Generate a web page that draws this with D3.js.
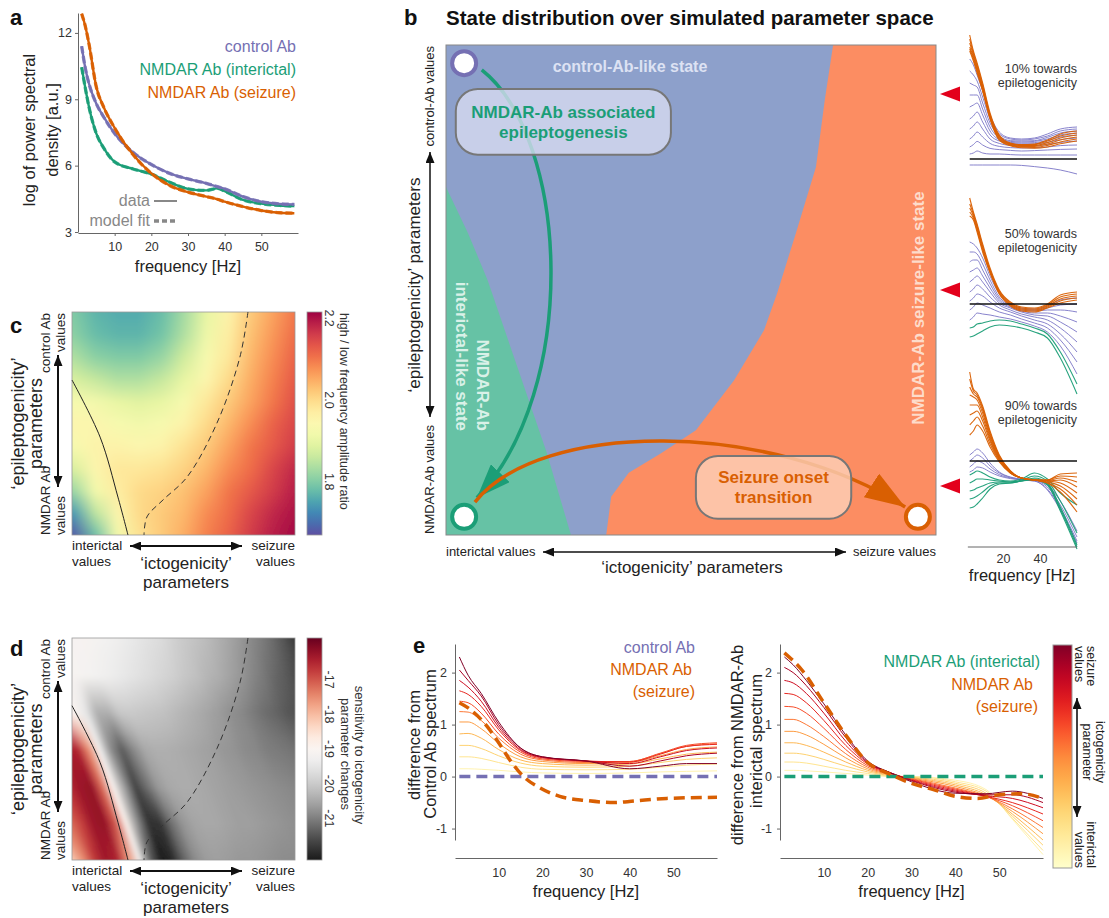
<!DOCTYPE html>
<html>
<head>
<meta charset="utf-8">
<script src="https://cdn.jsdelivr.net/npm/d3@7"></script>
<style>
  body { margin: 0; background: #fff; }
  svg { font-family: "Liberation Sans", Arial, Helvetica, sans-serif; }
  .ax path, .ax line { stroke: #666; }
  .ax text { font-size: 12.5px; fill: #333; font-family: "Liberation Sans", Arial, sans-serif; }
</style>
</head>
<body>
<svg width="1109" height="918"></svg>
<script>
// ---------- panel a: fitted spectra ----------
const freqA = [1, 2, 3, 5, 7, 10, 15, 20, 25, 30, 35, 38, 40, 45, 50, 55, 59];
const psdControl = [11.4, 10.4, 9.7, 8.8, 8.2, 7.45, 6.6, 6.05, 5.65, 5.4, 5.2, 5.05, 4.95, 4.6, 4.37, 4.27, 4.25];
const psdInterictal = [10.45, 9.5, 8.65, 7.45, 6.8, 6.17, 5.85, 5.62, 5.25, 4.95, 4.88, 4.97, 4.85, 4.45, 4.28, 4.2, 4.17];
const psdSeizure = [12.87, 12.3, 11.5, 9.55, 8.65, 7.7, 6.5, 5.65, 5.1, 4.8, 4.6, 4.48, 4.37, 4.15, 3.97, 3.87, 3.85];
const psdTicks = [3, 6, 9, 12];
const freqTicks = [10, 20, 30, 40, 50];

// ---------- panel b: state map, [ictogenicity, epileptogenicity] in 0..1 ----------
const interictalEdge = [[0, 0.71], [0.045, 0.616], [0.085, 0.52], [0.15, 0.33], [0.205, 0.17], [0.255, 0]];
const seizureEdge = [[0.79, 1], [0.773, 0.888], [0.755, 0.751], [0.714, 0.616], [0.676, 0.494], [0.649, 0.418],
  [0.588, 0.316], [0.51, 0.214], [0.439, 0.167], [0.373, 0.127], [0.337, 0.078], [0.327, 0]];
const sampledEpi = [0.9, 0.5, 0.1];
const sampledLabels = ["10%", "50%", "90%"];

// spectra relative to control (right column of b)
const freqB = [2, 4, 6, 9, 13, 18, 24, 30, 37, 44, 51, 60];
const spec10Control = [
  [5.0, 4.7, 4.2, 3.4, 2.2, 1.35, 1.05, 1.0, 1.05, 1.25, 1.5, 1.6],
  [4.4, 4.2, 3.9, 3.1, 2.0, 1.25, 1.0, 0.95, 1.0, 1.15, 1.4, 1.5],
  [3.8, 3.7, 3.6, 2.8, 1.8, 1.15, 0.92, 0.9, 0.92, 1.08, 1.3, 1.4],
  [3.2, 3.2, 3.2, 2.5, 1.6, 1.05, 0.88, 0.85, 0.88, 1.0, 1.2, 1.3],
  [2.6, 2.7, 2.8, 2.2, 1.4, 0.97, 0.83, 0.8, 0.82, 0.92, 1.1, 1.2],
  [2.0, 2.15, 2.35, 1.85, 1.2, 0.9, 0.78, 0.75, 0.76, 0.83, 0.97, 1.05],
  [1.5, 1.65, 1.85, 1.5, 1.0, 0.78, 0.68, 0.65, 0.66, 0.73, 0.83, 0.9],
  [1.0, 1.15, 1.35, 1.1, 0.78, 0.63, 0.57, 0.55, 0.56, 0.6, 0.67, 0.7],
  [0.6, 0.72, 0.88, 0.7, 0.53, 0.47, 0.43, 0.4, 0.42, 0.45, 0.48, 0.5],
  [0.25, 0.3, 0.4, 0.3, 0.25, 0.25, 0.22, 0.2, 0.2, 0.2, 0.2, 0.2],
  [-0.3, -0.3, -0.3, -0.3, -0.3, -0.3, -0.3, -0.32, -0.38, -0.45, -0.55, -0.75]
];
const spec10Seizure = [
  [6.2, 5.4, 4.8, 3.8, 2.3, 1.2, 0.8, 0.72, 0.75, 0.95, 1.25, 1.4],
  [6.0, 5.3, 4.7, 3.7, 2.2, 1.15, 0.77, 0.7, 0.72, 0.9, 1.15, 1.3],
  [5.8, 5.2, 4.6, 3.6, 2.15, 1.1, 0.75, 0.67, 0.68, 0.82, 1.05, 1.2],
  [5.6, 5.1, 4.5, 3.5, 2.1, 1.05, 0.72, 0.63, 0.63, 0.75, 0.95, 1.1],
  [5.5, 5.0, 4.4, 3.45, 2.05, 1.0, 0.69, 0.6, 0.58, 0.68, 0.85, 1.0],
  [5.4, 4.9, 4.3, 3.4, 2.0, 0.95, 0.66, 0.56, 0.54, 0.6, 0.76, 0.9]
];
const spec10Interictal = [];
const spec50Control = [
  [3.1, 3.0, 2.8, 2.3, 1.4, 0.5, 0.0, -0.2, -0.25, -0.1, 0.2, 0.3],
  [2.6, 2.6, 2.5, 2.0, 1.2, 0.35, -0.05, -0.25, -0.3, -0.2, -0.05, 0.0],
  [2.1, 2.2, 2.2, 1.7, 1.0, 0.25, -0.1, -0.3, -0.35, -0.3, -0.3, -0.4],
  [1.6, 1.7, 1.8, 1.4, 0.8, 0.15, -0.15, -0.35, -0.45, -0.45, -0.6, -0.9],
  [1.1, 1.25, 1.4, 1.1, 0.6, 0.05, -0.2, -0.4, -0.55, -0.6, -0.9, -1.4],
  [0.6, 0.75, 0.95, 0.75, 0.35, -0.05, -0.3, -0.5, -0.65, -0.8, -1.2, -1.9],
  [0.15, 0.3, 0.5, 0.4, 0.1, -0.2, -0.4, -0.6, -0.8, -1.0, -1.5, -2.4],
  [-0.3, -0.15, 0.05, -0.05, -0.2, -0.4, -0.55, -0.75, -0.95, -1.2, -1.8, -2.9],
  [-0.8, -0.65, -0.45, -0.5, -0.55, -0.65, -0.75, -0.9, -1.1, -1.4, -2.1, -3.5]
];
const spec50Seizure = [
  [5.3, 4.6, 4.0, 3.0, 1.8, 0.7, 0.1, -0.15, -0.2, 0.0, 0.45, 0.6],
  [5.0, 4.5, 3.9, 2.9, 1.7, 0.65, 0.05, -0.2, -0.25, -0.05, 0.35, 0.5],
  [4.8, 4.4, 3.8, 2.8, 1.65, 0.6, 0.0, -0.25, -0.3, -0.1, 0.25, 0.4],
  [4.6, 4.3, 3.7, 2.7, 1.6, 0.55, -0.05, -0.3, -0.35, -0.15, 0.15, 0.3],
  [4.4, 4.2, 3.6, 2.6, 1.55, 0.5, -0.1, -0.35, -0.4, -0.2, 0.05, 0.2]
];
const spec50Interictal = [
  [-1.2, -1.15, -1.0, -0.95, -0.85, -0.8, -0.85, -1.0, -1.2, -1.5, -2.4, -4.0],
  [-1.65, -1.6, -1.5, -1.35, -1.15, -1.05, -1.1, -1.2, -1.4, -1.7, -2.7, -4.5]
];
const spec90Control = [
  [0.3, 0.45, 0.6, 0.4, -0.1, -0.55, -0.8, -0.9, -0.95, -1.2, -2.0, -3.5],
  [0.0, 0.15, 0.3, 0.15, -0.25, -0.6, -0.82, -0.92, -0.97, -1.3, -2.2, -3.8],
  [-0.3, -0.15, 0.0, -0.1, -0.4, -0.68, -0.85, -0.93, -1.0, -1.4, -2.35, -4.0],
  [-0.55, -0.45, -0.3, -0.35, -0.55, -0.75, -0.88, -0.95, -1.0, -1.45, -2.45, -4.1]
];
const spec90Seizure = [
  [4.45, 3.6, 3.4, 2.75, 1.5, 0.3, -0.5, -0.85, -0.95, -0.95, -0.65, -0.6],
  [4.1, 3.5, 3.3, 2.65, 1.4, 0.25, -0.5, -0.85, -0.95, -0.95, -0.75, -0.8],
  [3.7, 3.35, 3.2, 2.55, 1.3, 0.2, -0.55, -0.85, -0.95, -0.97, -0.85, -1.05],
  [3.3, 3.2, 3.05, 2.4, 1.2, 0.15, -0.55, -0.85, -0.95, -1.0, -0.95, -1.3],
  [2.8, 2.8, 2.8, 2.2, 1.1, 0.1, -0.55, -0.85, -0.95, -1.0, -1.1, -1.6],
  [2.3, 2.4, 2.5, 2.0, 1.0, 0.05, -0.6, -0.85, -0.95, -1.05, -1.25, -1.9],
  [1.8, 2.0, 2.2, 1.75, 0.85, 0.0, -0.6, -0.85, -0.95, -1.1, -1.4, -2.2],
  [1.3, 1.5, 1.8, 1.5, 0.7, -0.05, -0.6, -0.85, -0.95, -1.1, -1.55, -2.55]
];
const spec90Interictal = [
  [-0.7, -0.6, -0.5, -0.6, -0.8, -0.95, -1.0, -0.9, -0.6, -0.9, -1.6, -2.2],
  [-1.1, -1.0, -0.9, -0.9, -0.95, -1.0, -1.05, -0.95, -0.75, -1.0, -2.0, -3.6],
  [-1.5, -1.45, -1.35, -1.25, -1.1, -1.05, -1.05, -1.0, -0.85, -1.1, -2.3, -4.2],
  [-1.9, -1.85, -1.75, -1.55, -1.25, -1.1, -1.1, -1.0, -0.9, -1.15, -2.4, -4.3],
  [-2.35, -2.3, -2.15, -1.85, -1.4, -1.15, -1.1, -1.0, -0.95, -1.2, -2.5, -4.4]
];
const specTicks = [20, 40];

// ---------- panel c: high/low frequency amplitude ratio (rows: epi 1 -> 0, cols: icto 0 -> 1) ----------
const ratioGrid = [
  [1.80, 1.77, 1.76, 1.76, 1.78, 1.83, 1.90, 1.96, 2.02, 2.06, 2.10],
  [1.81, 1.78, 1.77, 1.77, 1.79, 1.84, 1.91, 1.97, 2.03, 2.07, 2.11],
  [1.84, 1.81, 1.80, 1.80, 1.82, 1.87, 1.93, 1.98, 2.04, 2.08, 2.12],
  [1.88, 1.86, 1.84, 1.84, 1.86, 1.90, 1.95, 2.00, 2.05, 2.09, 2.13],
  [1.93, 1.92, 1.90, 1.89, 1.90, 1.93, 1.98, 2.02, 2.06, 2.10, 2.14],
  [1.95, 1.95, 1.93, 1.92, 1.93, 1.96, 2.00, 2.04, 2.08, 2.12, 2.15],
  [1.93, 1.96, 1.96, 1.95, 1.96, 1.99, 2.02, 2.06, 2.10, 2.13, 2.16],
  [1.88, 1.95, 1.98, 1.98, 1.99, 2.01, 2.04, 2.08, 2.11, 2.15, 2.18],
  [1.82, 1.92, 1.97, 2.00, 2.01, 2.03, 2.06, 2.10, 2.13, 2.16, 2.19],
  [1.74, 1.85, 1.95, 2.00, 2.02, 2.04, 2.08, 2.11, 2.15, 2.18, 2.20],
  [1.68, 1.78, 1.92, 1.99, 2.02, 2.05, 2.09, 2.12, 2.16, 2.19, 2.21]
];
const ratioRange = [1.67, 2.215];
const ratioTicks = [1.8, 2.0, 2.2];

// ---------- panel d: sensitivity to ictogenicity changes ----------
// sampled on a grid sheared along the interictal border:
// rows epi = 1 -> 0 (step 1/6); columns s = -0.3 -> 1.2 (step 0.05), icto = s + 0.251 - 0.361 * epi
const sensGrid = [
  [-19.1, -19.1, -19.1, -19.1, -19.1, -19.1, -19.1, -19.1, -19.1, -19.1, -19.15, -19.2, -19.3, -19.4, -19.5, -19.6, -19.7, -19.85, -20.0, -20.1, -20.2, -20.35, -20.5, -20.65, -20.85, -21.0, -21.2, -21.45, -21.75, -21.85, -21.9],
  [-19.1, -19.1, -19.1, -19.1, -19.1, -19.1, -19.1, -19.1, -19.15, -19.2, -19.3, -19.4, -19.5, -19.6, -19.7, -19.8, -19.9, -20.05, -20.15, -20.3, -20.4, -20.55, -20.7, -20.9, -21.05, -21.25, -21.4, -21.6, -21.7, -21.8, -21.85],
  [-17.5, -17.5, -17.5, -17.8, -18.2, -18.7, -19.0, -19.5, -20.4, -20.4, -20.05, -20.0, -20.05, -20.1, -20.15, -20.25, -20.35, -20.45, -20.55, -20.65, -20.8, -20.9, -21.05, -21.2, -21.3, -21.45, -21.55, -21.6, -21.65, -21.7, -21.7],
  [-16.5, -16.5, -16.5, -16.5, -16.4, -16.5, -17.5, -19.2, -20.8, -21.4, -20.9, -20.5, -20.4, -20.4, -20.45, -20.5, -20.55, -20.6, -20.7, -20.75, -20.85, -20.9, -21.0, -21.05, -21.1, -21.2, -21.25, -21.3, -21.35, -21.4, -21.4],
  [-16.8, -16.8, -16.8, -16.6, -16.3, -16.2, -17.2, -19.0, -20.6, -21.7, -21.2, -20.7, -20.5, -20.45, -20.45, -20.5, -20.55, -20.6, -20.65, -20.7, -20.75, -20.8, -20.85, -20.9, -20.95, -21.0, -21.05, -21.1, -21.15, -21.2, -21.2],
  [-17.3, -17.3, -17.2, -16.8, -16.3, -16.2, -17.0, -18.9, -20.8, -21.9, -21.9, -21.2, -20.75, -20.55, -20.5, -20.5, -20.55, -20.6, -20.6, -20.65, -20.7, -20.75, -20.8, -20.85, -20.9, -20.95, -21.0, -21.0, -21.05, -21.05, -21.05],
  [-18.4, -18.2, -17.5, -16.7, -16.3, -16.5, -17.6, -19.3, -21.4, -22.2, -22.0, -21.3, -20.85, -20.65, -20.6, -20.65, -20.7, -20.7, -20.75, -20.8, -20.85, -20.85, -20.9, -20.9, -20.9, -20.9, -20.9, -20.9, -20.9, -20.9, -20.9]
];
const sensShear = { s0: -0.3, s1: 1.2, shift: 0.251, slope: 0.361 };
const sensRange = [-22.2, -15.8];
const sensTicks = [-21, -20, -19, -18, -17];

// state borders drawn over c and d
const interictalBorder = [[0, 0.695], [0.126, 0.439], [0.206, 0.17], [0.251, 0]];
const seizureBorder = [[0.789, 1], [0.753, 0.798], [0.65, 0.502], [0.516, 0.26], [0.408, 0.157], [0.336, 0.081], [0.323, 0]];

// ---------- panel e ----------
const freqE = [1, 3, 6, 10, 15, 20, 30, 40, 47, 53, 60];
const diffFromControl = [
  [0.15, 0.15, 0.14, 0.12, 0.09, 0.07, 0.06, 0.07, 0.09, 0.10, 0.11],
  [0.38, 0.38, 0.35, 0.27, 0.18, 0.14, 0.13, 0.14, 0.18, 0.22, 0.24],
  [0.60, 0.60, 0.54, 0.40, 0.26, 0.20, 0.18, 0.20, 0.27, 0.33, 0.36],
  [0.82, 0.83, 0.74, 0.52, 0.32, 0.25, 0.22, 0.24, 0.34, 0.43, 0.47],
  [1.05, 1.05, 0.92, 0.64, 0.38, 0.29, 0.25, 0.27, 0.40, 0.52, 0.57],
  [1.25, 1.24, 1.08, 0.74, 0.43, 0.32, 0.27, 0.29, 0.44, 0.58, 0.63],
  [1.45, 1.42, 1.22, 0.82, 0.47, 0.34, 0.29, 0.29, 0.45, 0.60, 0.65],
  [1.65, 1.58, 1.35, 0.90, 0.50, 0.36, 0.30, 0.28, 0.43, 0.58, 0.62],
  [1.85, 1.72, 1.45, 0.95, 0.52, 0.37, 0.30, 0.25, 0.38, 0.50, 0.55],
  [2.05, 1.85, 1.55, 1.00, 0.55, 0.38, 0.30, 0.20, 0.30, 0.40, 0.45],
  [2.30, 1.95, 1.60, 1.05, 0.55, 0.38, 0.30, 0.15, 0.20, 0.25, 0.25]
];
const freqE2 = [1, 3, 6, 10, 15, 20, 25, 30, 40, 47, 53, 60];
const diffFromInterictal = [
  [0.12, 0.12, 0.11, 0.09, 0.06, 0.03, 0.00, 0.00, -0.07, -0.25, -0.82, -1.50],
  [0.28, 0.28, 0.26, 0.20, 0.12, 0.06, 0.01, 0.00, -0.10, -0.28, -0.80, -1.42],
  [0.45, 0.45, 0.42, 0.33, 0.20, 0.09, 0.02, -0.01, -0.13, -0.32, -0.76, -1.32],
  [0.65, 0.65, 0.60, 0.47, 0.28, 0.12, 0.03, -0.02, -0.16, -0.35, -0.72, -1.22],
  [0.87, 0.87, 0.80, 0.62, 0.36, 0.15, 0.04, -0.03, -0.19, -0.37, -0.67, -1.10],
  [1.10, 1.10, 1.00, 0.77, 0.44, 0.18, 0.05, -0.04, -0.22, -0.38, -0.62, -0.98],
  [1.35, 1.34, 1.22, 0.93, 0.52, 0.21, 0.06, -0.05, -0.24, -0.38, -0.56, -0.85],
  [1.60, 1.58, 1.42, 1.08, 0.60, 0.24, 0.07, -0.06, -0.26, -0.38, -0.50, -0.72],
  [1.85, 1.80, 1.60, 1.22, 0.68, 0.26, 0.08, -0.07, -0.28, -0.37, -0.42, -0.60],
  [2.10, 2.00, 1.75, 1.33, 0.75, 0.28, 0.08, -0.08, -0.30, -0.35, -0.35, -0.50],
  [2.30, 2.15, 1.85, 1.40, 0.80, 0.30, 0.08, -0.10, -0.32, -0.33, -0.28, -0.42]
];
const seizureVsControlFreq = [1, 3, 7.4, 10, 13, 15.7, 19.5, 24, 30, 36.5, 41, 48.5, 60];
const seizureVsControl = [1.42, 1.32, 0.96, 0.65, 0.27, 0, -0.22, -0.38, -0.46, -0.5, -0.47, -0.42, -0.4];
const seizureVsInterictalFreq = [1, 5, 10, 15, 20, 25, 30, 35, 40, 45, 50, 55, 60];
const seizureVsInterictal = [2.38, 2.05, 1.42, 0.8, 0.27, 0.05, -0.13, -0.25, -0.38, -0.42, -0.35, -0.33, -0.42];
const refFreq = [1, 60];
const refLevel = [0, 0];
const diffTicks = [-1, 0, 1, 2];

// ---------- drawing ----------
const C = { control: "#7570b3", interictal: "#1b9e77", seizure: "#d95f02" };
const svg = d3.select("svg");
const defs = svg.append("defs");

function marker(id, color, w, h) {
  defs.append("marker").attr("id", id).attr("viewBox", "0 0 10 10")
    .attr("refX", 10).attr("refY", 5).attr("markerUnits", "userSpaceOnUse")
    .attr("markerWidth", w).attr("markerHeight", h).attr("preserveAspectRatio", "none")
    .attr("orient", "auto-start-reverse")
    .append("path").attr("d", "M0,0L10,5L0,10Z").attr("fill", color);
}
marker("ahBlack", "#111", 11, 9);
marker("ahGreen", C.interictal, 34, 26);
marker("ahOrange", C.seizure, 40, 28);
[["soft", 3.5], ["soft2", 2]].forEach(([id, sd]) => defs.append("filter").attr("id", id)
  .attr("x", -0.1).attr("y", -0.1).attr("width", 1.2).attr("height", 1.2)
  .append("feGaussianBlur").attr("stdDeviation", sd));

function txt(g, x, y, s, o = {}) {
  const t = g.append("text").attr("x", x).attr("y", y).text(s)
    .attr("font-size", o.size || 13).attr("fill", o.fill || "#222")
    .attr("text-anchor", o.anchor || "start");
  if (o.weight) t.attr("font-weight", o.weight);
  if (o.rot) t.attr("transform", `rotate(${o.rot},${x},${y})`);
  return t;
}
function dblArrow(g, x1, y1, x2, y2, w) {
  g.append("line").attr("x1", x1).attr("y1", y1).attr("x2", x2).attr("y2", y2)
    .attr("stroke", "#111").attr("stroke-width", w || 1.6)
    .attr("marker-start", "url(#ahBlack)").attr("marker-end", "url(#ahBlack)");
}
function family(g, xs, ys, freq, rows, color, width, opacity) {
  const line = d3.line().x((d, i) => xs(freq[i])).y(d => ys(d)).curve(d3.curveMonotoneX);
  g.selectAll(null).data(rows).join("path").attr("d", line).attr("fill", "none")
    .attr("stroke", (d, i) => typeof color === "function" ? color(i, rows.length) : color)
    .attr("stroke-width", width).attr("opacity", opacity || 1);
}

// ===== panel a =====
const gA = svg.append("g");
const xA = d3.scaleLinear([0, 60], [78, 298]);
const yA = d3.scaleLinear([3, 12.9], [232, 13]);
gA.append("g").attr("class", "ax").attr("transform", "translate(0,233)")
  .call(d3.axisBottom(xA).tickValues(freqTicks).tickSize(3).tickSizeOuter(0).tickPadding(6));
gA.append("g").attr("class", "ax").attr("transform", "translate(78,0)")
  .call(d3.axisLeft(yA).tickValues(psdTicks).tickSize(3).tickSizeOuter(0));
const lineA = d3.line().x((d, i) => xA(freqA[i])).y(d => yA(d)).curve(d3.curveMonotoneX);
[[psdInterictal, C.interictal], [psdControl, C.control], [psdSeizure, C.seizure]].forEach(([s, c]) => {
  gA.append("path").attr("d", lineA(s)).attr("fill", "none").attr("stroke", c).attr("stroke-width", 2.4);
  gA.append("path").attr("d", lineA(s)).attr("fill", "none").attr("stroke", c).attr("stroke-width", 3.3)
    .attr("stroke-dasharray", "7,3").attr("opacity", 0.85);
});
txt(gA, 10, 25, "a", { size: 22, weight: "bold", fill: "#111" });
txt(gA, 296, 52, "control Ab", { size: 16, anchor: "end", fill: C.control });
txt(gA, 296, 75, "NMDAR Ab (interictal)", { size: 16, anchor: "end", fill: C.interictal });
txt(gA, 296, 98, "NMDAR Ab (seizure)", { size: 16, anchor: "end", fill: C.seizure });
txt(gA, 150, 206, "data", { size: 16, anchor: "end", fill: "#888" });
txt(gA, 150, 226, "model fit", { size: 16, anchor: "end", fill: "#888" });
gA.append("line").attr("x1", 154).attr("x2", 177).attr("y1", 201).attr("y2", 201).attr("stroke", "#888").attr("stroke-width", 2);
gA.append("line").attr("x1", 154).attr("x2", 178).attr("y1", 221).attr("y2", 221).attr("stroke", "#888").attr("stroke-width", 3.5).attr("stroke-dasharray", "5,3");
txt(gA, 188, 272, "frequency [Hz]", { size: 16.5, anchor: "middle" });
txt(gA, 35, 130, "log of power spectral", { size: 16.5, anchor: "middle", rot: -90 });
txt(gA, 58, 130, "density [a.u.]", { size: 16.5, anchor: "middle", rot: -90 });

// ===== panel b =====
const gB = svg.append("g");
const xB = d3.scaleLinear([0, 1], [446, 936]);
const yB = d3.scaleLinear([0, 1], [535, 45]);
const area = d3.line().x(d => xB(d[0])).y(d => yB(d[1]));
gB.append("rect").attr("x", xB(0)).attr("y", yB(1)).attr("width", xB(1) - xB(0)).attr("height", yB(0) - yB(1)).attr("fill", "#8da0cb");
gB.append("path").attr("d", area([[0, 0], ...interictalEdge]) + "Z").attr("fill", "#66c2a5");
gB.append("path").attr("d", area([[1, 1], ...seizureEdge, [1, 0]]) + "Z").attr("fill", "#fc8d62");
gB.append("rect").attr("x", xB(0)).attr("y", yB(1)).attr("width", xB(1) - xB(0)).attr("height", yB(0) - yB(1))
  .attr("fill", "none").attr("stroke", "#888").attr("stroke-width", 1);

txt(gB, 630, 72, "control-Ab-like state", { size: 16, weight: "bold", anchor: "middle", fill: "#dde2f3" });
txt(gB, 477, 431, "NMDAR-Ab", { size: 17, weight: "bold", anchor: "end", fill: "#d9f1e8", rot: 90 });
txt(gB, 456, 431, "interictal-like state", { size: 17, weight: "bold", anchor: "end", fill: "#d9f1e8", rot: 90 });
txt(gB, 924, 308, "NMDAR-Ab seizure-like state", { size: 17, weight: "bold", anchor: "middle", fill: "#fddccb", rot: -90 });

// transitions (bezier in parameter space)
function bez(p) {
  return `M${xB(p[0][0])},${yB(p[0][1])}C${xB(p[1][0])},${yB(p[1][1])} ${xB(p[2][0])},${yB(p[2][1])} ${xB(p[3][0])},${yB(p[3][1])}`;
}
const epiPath = [[0.073, 0.949], [0.253, 0.806], [0.273, 0.296], [0.063, 0.076]];
const ictoPath = [[0.059, 0.067], [0.192, 0.235], [0.661, 0.235], [0.937, 0.057]];
gB.append("path").attr("d", bez(epiPath)).attr("fill", "none").attr("stroke", C.interictal)
  .attr("stroke-width", 3.5).attr("marker-end", "url(#ahGreen)");
gB.append("path").attr("d", bez(ictoPath)).attr("fill", "none").attr("stroke", C.seizure)
  .attr("stroke-width", 3.5).attr("marker-end", "url(#ahOrange)");

function box(u0, u1, v0, v1, fill, lines, color) {
  gB.append("rect").attr("x", xB(u0)).attr("y", yB(v1)).attr("width", xB(u1) - xB(u0)).attr("height", yB(v0) - yB(v1))
    .attr("rx", 22).attr("fill", fill).attr("fill-opacity", 0.78).attr("stroke", "#777").attr("stroke-width", 2);
  const cx = (xB(u0) + xB(u1)) / 2, cy = (yB(v0) + yB(v1)) / 2;
  lines.forEach((s, i) => txt(gB, cx, cy - 4 + (i - (lines.length - 1) / 2) * 20 + 10, s, { size: 17, weight: "bold", anchor: "middle", fill: color }));
}
box(0.02, 0.459, 0.776, 0.91, "#d8dcf1", ["NMDAR-Ab associated", "epileptogenesis"], C.interictal);
box(0.51, 0.827, 0.033, 0.161, "#fcd2bb", ["Seizure onset", "transition"], C.seizure);

[[[0.037, 0.963], C.control], [[0.037, 0.037], C.interictal], [[0.963, 0.037], C.seizure]].forEach(([p, c]) => {
  gB.append("circle").attr("cx", xB(p[0])).attr("cy", yB(p[1])).attr("r", 12)
    .attr("fill", "#fff").attr("stroke", c).attr("stroke-width", 4);
});

txt(gB, 404, 25, "b", { size: 22, weight: "bold", fill: "#111" });
txt(gB, 446, 25, "State distribution over simulated parameter space", { size: 20.5, weight: "bold", fill: "#111" });
txt(gB, 434, 46, "control-Ab values", { size: 13, anchor: "end", rot: -90 });
txt(gB, 434, 534, "NMDAR-Ab values", { size: 13, anchor: "start", rot: -90 });
txt(gB, 420, 285, "\u2018epileptogenicity\u2019 parameters", { size: 17, anchor: "middle", rot: -90 });
dblArrow(gB, 430, 152, 430, 417, 1.5);
txt(gB, 446, 556, "interictal values", { size: 13 });
txt(gB, 936, 556, "seizure values", { size: 13, anchor: "end" });
dblArrow(gB, 543, 552, 846, 552, 1.5);
txt(gB, 692, 573, "\u2018ictogenicity\u2019 parameters", { size: 17, anchor: "middle" });

// red markers at sampled epileptogenicity levels
gB.selectAll(null).data(sampledEpi).join("path")
  .attr("d", d => `M940,${yB(d)}L960,${yB(d) - 7.5}L960,${yB(d) + 7.5}Z`).attr("fill", "#e3001b");

// spectra column
const xS = d3.scaleLinear([0, 60], [966, 1077]);
const subBase = [159, 304, 461];
const subSets = [
  [spec10Control, spec10Interictal, spec10Seizure],
  [spec50Control, spec50Interictal, spec50Seizure],
  [spec90Control, spec90Interictal, spec90Seizure]
];
const textBase = [73, 238, 410];
subSets.forEach((set, k) => {
  const ys = d3.scaleLinear([0, 1], [subBase[k], subBase[k] - 20]);
  const g = gB.append("g");
  family(g, xS, ys, freqB, set[0], "#7b75c6", 1, 0.9);
  family(g, xS, ys, freqB, set[1], C.interictal, 1.1, 0.95);
  family(g, xS, ys, freqB, set[2], C.seizure, 1.1, 0.95);
  g.append("line").attr("x1", xS(freqB[0])).attr("x2", xS(60)).attr("y1", ys(0)).attr("y2", ys(0))
    .attr("stroke", "#111").attr("stroke-width", 1.4);
  txt(g, 1077, textBase[k], sampledLabels[k] + " towards", { size: 12.5, anchor: "end", fill: "#333" });
  txt(g, 1077, textBase[k] + 14, "epiletogenicity", { size: 12.5, anchor: "end", fill: "#333" });
});
gB.append("g").attr("class", "ax").attr("transform", "translate(0,547)")
  .call(d3.axisBottom(xS).tickValues(specTicks).tickSize(0).tickSizeOuter(0).tickPadding(7))
  .select(".domain").attr("stroke", "#999").attr("d", `M${xS(1)},0H${xS(60)}`);
txt(gB, 1022, 581, "frequency [Hz]", { size: 16.5, anchor: "middle" });

// ===== heatmaps c & d =====
// grid columns span s0..s1 with icto = s + shift - slope * epi (plain grid: shift = slope = 0)
function heatmap(g, grid, color, xs, ys, id, frame, blur) {
  const f = frame || { s0: 0, s1: 1, shift: 0, slope: 0 };
  const nr = grid.length, nc = grid[0].length;
  const cv = document.createElement("canvas");
  cv.width = nc; cv.height = nr;
  const ctx = cv.getContext("2d");
  grid.forEach((row, r) => row.forEach((v, c) => { ctx.fillStyle = color(v); ctx.fillRect(c, r, 1, 1); }));
  const ds = 0.5 * (f.s1 - f.s0) / (nc - 1), dv = 0.5 / (nr - 1);
  const W = xs(1) - xs(0), H = ys(0) - ys(1);
  const k = f.slope * W / H;
  g.append("clipPath").attr("id", id).append("rect")
    .attr("x", xs(0)).attr("y", ys(1)).attr("width", W).attr("height", H);
  g.append("g").attr("clip-path", `url(#${id})`)
    .append("g").attr("transform", `matrix(1,0,${k},1,${-k * ys(0)},0)`)
    .append("image").attr("href", cv.toDataURL()).attr("preserveAspectRatio", "none")
    .attr("x", xs(f.s0 + f.shift - ds)).attr("y", ys(1 + dv))
    .attr("width", xs(f.s1 + f.shift + ds) - xs(f.s0 + f.shift - ds)).attr("height", ys(-dv) - ys(1 + dv))
    .attr("filter", `url(#${blur})`);
  g.append("rect").attr("x", xs(0)).attr("y", ys(1)).attr("width", W).attr("height", H)
    .attr("fill", "none").attr("stroke", "#999").attr("stroke-width", 0.8);
  const ln = d3.line().x(d => xs(d[0])).y(d => ys(d[1])).curve(d3.curveCatmullRom);
  g.append("path").attr("d", ln(interictalBorder)).attr("fill", "none").attr("stroke", "#222").attr("stroke-width", 1);
  g.append("path").attr("d", ln(seizureBorder)).attr("fill", "none").attr("stroke", "#333").attr("stroke-width", 1)
    .attr("stroke-dasharray", "6,4");
}
function colorbar(g, id, color, range, ticks, top, bottom, fmt) {
  const gr = defs.append("linearGradient").attr("id", id).attr("x1", 0).attr("y1", 1).attr("x2", 0).attr("y2", 0);
  d3.range(0, 1.0001, 0.05).forEach(t => gr.append("stop").attr("offset", t)
    .attr("stop-color", color(range[0] + t * (range[1] - range[0]))));
  g.append("rect").attr("x", 307).attr("y", top).attr("width", 15).attr("height", bottom - top)
    .attr("fill", `url(#${id})`).attr("stroke", "#999").attr("stroke-width", 0.8);
  const ys = d3.scaleLinear(range, [bottom, top]);
  ticks.forEach(v => txt(g, 325, ys(v), fmt(v), { size: 12.5, anchor: "middle", fill: "#333", rot: 90 }));
}
function paramLabels(g, top, bottom) {
  const mid = (top + bottom) / 2;
  txt(g, 50, top + 1, "control Ab", { size: 13.5, anchor: "end", rot: -90 });
  txt(g, 65, top + 1, "values", { size: 13.5, anchor: "end", rot: -90 });
  txt(g, 50, bottom, "NMDAR Ab", { size: 13.5, anchor: "start", rot: -90 });
  txt(g, 65, bottom, "values", { size: 13.5, anchor: "start", rot: -90 });
  dblArrow(g, 58, top + 43, 58, bottom - 48, 2);
  txt(g, 24, mid, "\u2018epileptogenicity\u2019", { size: 18, anchor: "middle", rot: -90 });
  txt(g, 42, mid, "parameters", { size: 18, anchor: "middle", rot: -90 });
  txt(g, 72, bottom + 15, "interictal", { size: 13.5 });
  txt(g, 72, bottom + 31, "values", { size: 13.5 });
  txt(g, 295, bottom + 15, "seizure", { size: 13.5, anchor: "end" });
  txt(g, 295, bottom + 31, "values", { size: 13.5, anchor: "end" });
  dblArrow(g, 130, bottom + 11, 242, bottom + 11, 2);
  txt(g, 186, bottom + 34, "\u2018ictogenicity\u2019", { size: 17, anchor: "middle" });
  txt(g, 186, bottom + 53, "parameters", { size: 17, anchor: "middle" });
}

const colorC = d3.scaleSequential(t => d3.interpolateSpectral(1 - t)).domain(ratioRange).clamp(true);
const colorD = d3.scaleSequential(d3.interpolateRdGy).domain([sensRange[1], sensRange[0]]).clamp(true);
const xC = d3.scaleLinear([0, 1], [72, 295]);

const gC = svg.append("g");
heatmap(gC, ratioGrid, colorC, xC, d3.scaleLinear([0, 1], [535, 312]), "clipC", null, "soft");
colorbar(gC, "gradC", colorC, ratioRange, ratioTicks, 312, 535, d3.format(".1f"));
paramLabels(gC, 312, 535);
txt(gC, 10, 333, "c", { size: 22, weight: "bold", fill: "#111" });
txt(gC, 340, 313, "high / low frequency amplitude ratio", { size: 12.5, anchor: "start", fill: "#333", rot: 90 });

const gD = svg.append("g");
heatmap(gD, sensGrid, colorD, xC, d3.scaleLinear([0, 1], [860, 638]), "clipD", sensShear, "soft2");
colorbar(gD, "gradD", colorD, sensRange, sensTicks, 638, 860, v => String(v));
paramLabels(gD, 638, 860);
txt(gD, 10, 656, "d", { size: 22, weight: "bold", fill: "#111" });
txt(gD, 355, 755, "sensitivity to ictogenicity", { size: 13, anchor: "middle", fill: "#333", rot: 90 });
txt(gD, 341, 754, "parameter changes", { size: 13, anchor: "middle", fill: "#333", rot: 90 });

// ===== panel e =====
const yE = d3.scaleLinear([-1.22, 2.55], [840, 644]);
const famColor = (i, n) => d3.interpolateYlOrRd(0.08 + 0.92 * i / (n - 1));
function diffPanel(x0, x1, rows, freq, dashed) {
  const g = svg.append("g");
  const xs = d3.scaleLinear([0, 60], [x0, x1]);
  g.append("g").attr("class", "ax").attr("transform", `translate(${x0},0)`)
    .call(d3.axisLeft(yE).tickValues(diffTicks).tickFormat(d => String(d)).tickSize(3).tickSizeOuter(0).tickPadding(5));
  g.append("g").attr("class", "ax").attr("transform", "translate(0,858)")
    .call(d3.axisBottom(xs).tickValues(freqTicks).tickSize(0).tickSizeOuter(0).tickPadding(10));
  family(g, xs, yE, freq, rows, famColor, 1);
  const ln = d3.line().x(d => xs(d[0])).y(d => yE(d[1])).curve(d3.curveMonotoneX);
  dashed.forEach(([f, v, c]) => g.append("path").attr("d", ln(f.map((q, i) => [q, v[i]])))
    .attr("fill", "none").attr("stroke", c).attr("stroke-width", 3.5).attr("stroke-dasharray", "11,6"));
  txt(g, (x0 + x1) / 2, 897, "frequency [Hz]", { size: 16.5, anchor: "middle" });
  return g;
}
const gE1 = diffPanel(455, 717, diffFromControl, freqE,
  [[refFreq, refLevel, C.control], [seizureVsControlFreq, seizureVsControl, C.seizure]]);
txt(gE1, 413, 653, "e", { size: 22, weight: "bold", fill: "#111" });
txt(gE1, 420, 745, "difference from", { size: 16.5, anchor: "middle", rot: -90 });
txt(gE1, 436, 744, "Control Ab spectrum", { size: 16.5, anchor: "middle", rot: -90 });
txt(gE1, 695, 653, "control Ab", { size: 16, anchor: "end", fill: C.control });
txt(gE1, 692, 675, "NMDAR Ab", { size: 16, anchor: "end", fill: C.seizure });
txt(gE1, 695, 697, "(seizure)", { size: 16, anchor: "end", fill: C.seizure });

const gE2 = diffPanel(780, 1043, diffFromInterictal, freqE2,
  [[refFreq, refLevel, C.interictal], [seizureVsInterictalFreq, seizureVsInterictal, C.seizure]]);
txt(gE2, 743, 745, "difference from NMDAR-Ab", { size: 16.5, anchor: "middle", rot: -90 });
txt(gE2, 762, 741, "interictal spectrum", { size: 16.5, anchor: "middle", rot: -90 });
txt(gE2, 1040, 667, "NMDAR Ab (interictal)", { size: 16, anchor: "end", fill: C.interictal });
txt(gE2, 1033, 690, "NMDAR Ab", { size: 16, anchor: "end", fill: C.seizure });
txt(gE2, 1038, 712, "(seizure)", { size: 16, anchor: "end", fill: C.seizure });

// ictogenicity colorbar
const gradE = defs.append("linearGradient").attr("id", "gradE").attr("x1", 0).attr("y1", 1).attr("x2", 0).attr("y2", 0);
d3.range(0, 1.0001, 0.05).forEach(t => gradE.append("stop").attr("offset", t).attr("stop-color", d3.interpolateYlOrRd(t)));
gE2.append("rect").attr("x", 1053).attr("y", 645).attr("width", 19).attr("height", 223)
  .attr("fill", "url(#gradE)").attr("stroke", "#999").attr("stroke-width", 1);
txt(gE2, 1087, 646, "seizure", { size: 12.5, anchor: "start", rot: 90 });
txt(gE2, 1075, 646, "values", { size: 12.5, anchor: "start", rot: 90 });
txt(gE2, 1096, 752, "ictogenicity", { size: 12.5, anchor: "middle", rot: 90 });
txt(gE2, 1083, 752, "parameter", { size: 12.5, anchor: "middle", rot: 90 });
txt(gE2, 1087, 868, "interictal", { size: 12.5, anchor: "end", rot: 90 });
txt(gE2, 1075, 868, "values", { size: 12.5, anchor: "end", rot: 90 });
dblArrow(gE2, 1077, 698, 1077, 817, 1.6);
</script>
</body>
</html>
